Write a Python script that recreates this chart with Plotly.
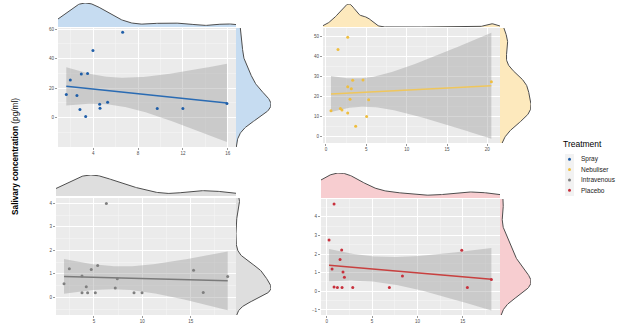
import numpy as np
import plotly.graph_objects as go

# ---------------- data ----------------
spray_x = [1.59, 1.95, 2.54, 2.81, 2.93, 3.32, 3.49, 3.97, 4.57, 4.60, 5.28, 6.62, 9.71, 12.0, 15.93]
spray_y = [15.7, 25.6, 15.0, 5.5, 29.5, 0.9, 30.0, 45.4, 9.1, 6.4, 10.5, 57.8, 6.2, 6.2, 9.6]

neb_x = [0.62, 1.49, 1.78, 1.98, 2.69, 2.69, 2.69, 2.98, 3.14, 3.31, 3.68, 4.59, 5.04, 5.29, 20.5]
neb_y = [12.9, 43.6, 14.0, 13.2, 49.7, 24.9, 11.7, 18.6, 23.9, 28.1, 5.0, 28.3, 10.0, 18.4, 27.4]

iv_x = [1.9, 2.45, 3.76, 3.76, 4.2, 4.34, 4.72, 5.14, 5.38, 6.28, 7.2, 7.41, 9.14, 9.97, 15.3, 16.3, 18.83]
iv_y = [0.58, 1.22, 0.91, 0.2, 0.45, 0.2, 1.19, 0.2, 1.36, 4.0, 0.4, 0.79, 0.2, 0.2, 1.16, 0.21, 0.89]

pl_x = [0.26, 0.59, 0.81, 0.81, 1.18, 1.47, 1.65, 1.69, 1.8, 1.95, 2.87, 6.91, 8.35, 14.89, 15.51, 18.16]
pl_y = [2.75, 1.2, 4.68, 0.23, 0.21, 1.71, 2.21, 0.21, 1.04, 0.75, 0.21, 0.21, 0.82, 2.2, 0.21, 0.64]

treatments = ["Spray", "Nebuliser", "Intravenous", "Placebo"]
y_title = "<b>Salivary concentration</b> (pg/ml)"
legend_title = "Treatment"

# ---------------- helpers ----------------
FW, FH = 617, 333
T975 = {10: 2.228, 11: 2.201, 12: 2.179, 13: 2.160, 14: 2.145, 15: 2.131, 16: 2.120, 17: 2.110, 18: 2.101}


def px(a):
    return a / FW


def py(b):
    return 1 - b / FH


def dx(a, b):
    return [px(a), px(b)]


def dy(top, bottom):
    return [py(bottom), py(top)]


def kde(data, grid):
    d = np.asarray(data, float)
    n = len(d)
    sd = d.std(ddof=1)
    q75, q25 = np.percentile(d, [75, 25])
    bw = 0.9 * min(sd, (q75 - q25) / 1.34) * n ** -0.2
    z = (grid[:, None] - d[None, :]) / bw
    return np.exp(-0.5 * z ** 2).sum(1) / (n * bw * np.sqrt(2 * np.pi))


def lm_ci(x, y, grid):
    x = np.asarray(x, float)
    y = np.asarray(y, float)
    n = len(x)
    b, a = np.polyfit(x, y, 1)
    resid = y - (a + b * x)
    s = np.sqrt((resid ** 2).sum() / (n - 2))
    sxx = ((x - x.mean()) ** 2).sum()
    fit = a + b * grid
    se = s * np.sqrt(1 / n + (grid - x.mean()) ** 2 / sxx)
    t = T975[n - 2]
    return fit, fit - t * se, fit + t * se


def ax_id(letter, n):
    return letter if n == 1 else f"{letter}{n}"


def ax_key(letter, n):
    return f"{letter}axis" if n == 1 else f"{letter}axis{n}"


panels = [
    dict(x=spray_x, y=spray_y, pt="#1f5ea8", ln="#2a6bb3", fill="#c6dcf1",
         main=(58, 236, 28, 147), top=(3, 27), right=(236, 271),
         xr=[0.85, 16.74], yr=[-19.8, 60.7], xt=(0, 4), yt=(0, 20)),
    dict(x=neb_x, y=neb_y, pt="#efbe3f", ln="#efc65c", fill="#fde9bd",
         main=(323, 500, 28, 143), top=(4, 27), right=(500, 531),
         xr=[-0.37, 21.57], yr=[-3.35, 54.4], xt=(0, 5), yt=(0, 10)),
    dict(x=iv_x, y=iv_y, pt="#7f7f7f", ln="#7a7a7a", fill="#dedede",
         main=(56, 236, 198, 315), top=(175, 196), right=(236, 271),
         xr=[1.07, 19.69], yr=[-0.75, 4.23], xt=(0, 5), yt=(0, 1)),
    dict(x=pl_x, y=pl_y, pt="#c8303c", ln="#c8403f", fill="#f7cdd0",
         main=(321, 500, 199, 315), top=(173, 198), right=(500, 531),
         xr=[-0.63, 19.11], yr=[-1.27, 4.95], xt=(0, 5), yt=(-1, 1)),
]

fig = go.Figure()
layout = {}
shapes = []
tickfont = dict(size=4.5, color="#4d4d4d", family="Liberation Sans, Arial")

for i, p in enumerate(panels):
    k = 3 * i
    mx, my = ax_id("x", k + 1), ax_id("y", k + 1)
    tx, ty = ax_id("x", k + 2), ax_id("y", k + 2)
    rx, ry = ax_id("x", k + 3), ax_id("y", k + 3)
    x0, x1, y0, y1 = p["main"]

    # main axes
    layout[ax_key("x", k + 1)] = dict(
        domain=dx(x0, x1), anchor=my, range=p["xr"], tickmode="linear",
        tick0=p["xt"][0], dtick=p["xt"][1], showgrid=True, gridcolor="white",
        gridwidth=1, zeroline=False, ticks="outside", ticklen=2, tickwidth=0.6,
        tickcolor="#555", tickfont=tickfont, showline=False,
        minor=dict(dtick=p["xt"][1] / 2, tick0=p["xt"][0], showgrid=True,
                   gridcolor="#f7f7f7", gridwidth=0.5))
    layout[ax_key("y", k + 1)] = dict(
        domain=dy(y0, y1), anchor=mx, range=p["yr"], tickmode="linear",
        tick0=p["yt"][0], dtick=p["yt"][1], showgrid=True, gridcolor="white",
        gridwidth=1, zeroline=False, ticks="outside", ticklen=2, tickwidth=0.6,
        tickcolor="#555", tickfont=tickfont, showline=False,
        minor=dict(dtick=p["yt"][1] / 2, tick0=p["yt"][0], showgrid=True,
                   gridcolor="#f7f7f7", gridwidth=0.5))
    shapes.append(dict(type="rect", xref=f"{mx} domain", yref=f"{my} domain", x0=0, x1=1,
                       y0=0, y1=1, fillcolor="#ebebeb", line=dict(width=0), layer="below"))

    # regression with CI band
    gx = np.linspace(min(p["x"]), max(p["x"]), 80)
    fit, lo, hi = lm_ci(p["x"], p["y"], gx)
    fig.add_trace(go.Scatter(x=gx, y=hi, mode="lines", line=dict(width=0), xaxis=mx, yaxis=my,
                             showlegend=False, hoverinfo="skip"))
    fig.add_trace(go.Scatter(x=gx, y=lo, mode="lines", line=dict(width=0), fill="tonexty",
                             fillcolor="rgba(153,153,153,0.4)", xaxis=mx, yaxis=my,
                             showlegend=False, hoverinfo="skip"))
    fig.add_trace(go.Scatter(x=gx, y=fit, mode="lines", line=dict(color=p["ln"], width=1.5),
                             xaxis=mx, yaxis=my, showlegend=False, hoverinfo="skip"))
    fig.add_trace(go.Scatter(x=p["x"], y=p["y"], mode="markers",
                             marker=dict(color=p["pt"], size=3), xaxis=mx, yaxis=my,
                             showlegend=False, name=treatments[i], hoverinfo="skip"))

    # top marginal density
    gxx = np.linspace(p["xr"][0], p["xr"][1], 200)
    dxv = kde(p["x"], gxx)
    fig.add_trace(go.Scatter(x=gxx, y=dxv, mode="lines", fill="tozeroy", fillcolor=p["fill"],
                             line=dict(color="#4d4d4d", width=1), xaxis=tx, yaxis=ty,
                             showlegend=False, hoverinfo="skip"))
    layout[ax_key("x", k + 2)] = dict(domain=dx(x0, x1), anchor=ty, range=p["xr"], visible=False)
    layout[ax_key("y", k + 2)] = dict(domain=dy(p["top"][0], p["top"][1]), anchor=tx,
                                      range=[0, dxv.max()], visible=False)

    # right marginal density
    gyy = np.linspace(p["yr"][0], p["yr"][1], 200)
    dyv = kde(p["y"], gyy)
    fig.add_trace(go.Scatter(x=dyv, y=gyy, mode="lines", fill="tozerox", fillcolor=p["fill"],
                             line=dict(color="#4d4d4d", width=1), xaxis=rx, yaxis=ry,
                             showlegend=False, hoverinfo="skip"))
    layout[ax_key("x", k + 3)] = dict(domain=dx(p["right"][0], p["right"][1]), anchor=ry,
                                      range=[0, dyv.max()], visible=False)
    layout[ax_key("y", k + 3)] = dict(domain=dy(y0, y1), anchor=rx, range=p["yr"], visible=False)

# titles and manual legend
annotations = [
    dict(text=y_title, textangle=-90, x=px(15), y=py(157), xref="paper", yref="paper",
         xanchor="center", yanchor="middle", showarrow=False,
         font=dict(size=8.3, color="black", family="Liberation Sans, Arial")),
    dict(text=legend_title, x=px(561), y=py(144), xref="paper", yref="paper",
         xanchor="left", showarrow=False,
         font=dict(size=8.5, color="black", family="Liberation Sans, Arial")),
]
shapes.append(dict(type="rect", xref="paper", yref="paper", x0=px(565), x1=px(574),
                   y0=py(196), y1=py(154), fillcolor="#f2f2f2", line=dict(width=0)))
for j, name in enumerate(treatments):
    yc = 159.3 + 10.3 * j
    shapes.append(dict(type="circle", xref="paper", yref="paper",
                       x0=px(569.5 - 1.5), x1=px(569.5 + 1.5),
                       y0=py(yc + 1.5), y1=py(yc - 1.5),
                       fillcolor=panels[j]["pt"], line=dict(width=0)))
    annotations.append(dict(text=name, x=px(578.5), y=py(yc), xref="paper", yref="paper",
                            xanchor="left", showarrow=False,
                            font=dict(size=6.5, color="#222", family="Liberation Sans, Arial")))

fig.update_layout(**layout)
fig.update_layout(width=FW, height=FH, margin=dict(l=0, r=0, t=0, b=0),
                  paper_bgcolor="white", plot_bgcolor="rgba(0,0,0,0)", hovermode=False,
                  showlegend=False, shapes=shapes, annotations=annotations)

# remove the browser's default 8px body margin so the figure sits at the window origin
fig.write_html("out.html", config={"displayModeBar": False, "staticPlot": True},
               post_script="document.body.style.margin='0px';document.body.style.overflow='hidden';")
